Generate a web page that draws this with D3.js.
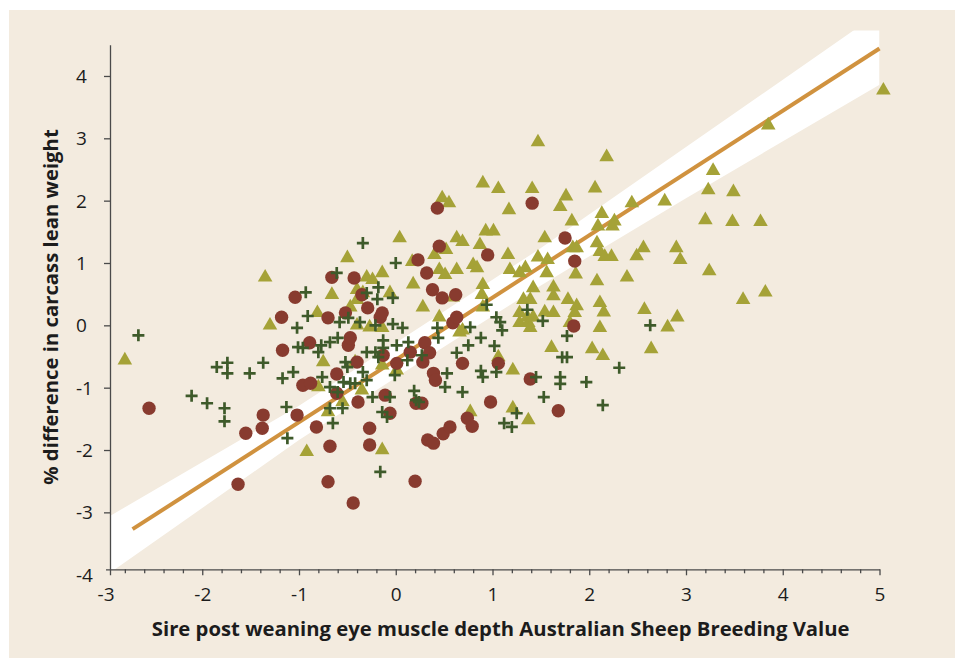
<!DOCTYPE html>
<html>
<head>
<meta charset="utf-8">
<script src="https://cdn.jsdelivr.net/npm/d3@7"></script>
<style>
body{margin:0;background:#fff;}
text{font-family:"Open Sans",sans-serif;fill:#1c1c1c;}
</style>
</head>
<body>
<svg id="chart"></svg>
<script>
const triangles = [
[-2.80,-0.56],[-1.35,0.77],[-1.30,0.00],[-0.92,-2.03],[-0.81,0.20],[-0.80,-0.99],[-0.75,-0.59],[-0.70,-1.39],[-0.66,0.49],[-0.55,-1.23],
[-0.50,1.08],[-0.47,0.29],[-0.42,-0.59],[-0.40,0.57],[-0.40,0.41],[-0.40,0.00],[-0.35,-1.04],[-0.34,0.52],[-0.30,0.77],[-0.27,-0.03],
[-0.24,0.73],[-0.14,0.84],[-0.14,-0.04],[-0.14,-0.64],[-0.14,-2.00],[-0.06,0.52],[0.01,-0.72],[0.04,1.40],[0.17,1.02],[0.18,0.66],
[0.28,0.29],[0.40,1.13],[0.45,0.89],[0.45,0.13],[0.48,2.04],[0.51,0.81],[0.52,1.21],[0.55,1.96],[0.59,0.45],[0.63,1.40],
[0.63,0.89],[0.66,-0.11],[0.69,1.34],[0.69,-0.08],[0.77,-1.39],[0.80,0.97],[0.84,0.92],[0.87,1.29],[0.89,0.49],[0.90,2.28],
[0.90,0.65],[0.90,0.29],[0.93,1.51],[1.01,1.51],[1.06,2.19],[1.06,-0.51],[1.16,1.13],[1.17,1.85],[1.18,0.89],[1.21,-0.72],
[1.21,-1.33],[1.28,0.84],[1.28,0.20],[1.28,0.04],[1.32,0.41],[1.34,0.92],[1.36,0.13],[1.37,0.04],[1.37,-1.52],[1.39,0.41],
[1.39,-0.04],[1.41,2.19],[1.42,0.60],[1.42,0.13],[1.47,2.94],[1.47,1.09],[1.54,1.40],[1.54,0.21],[1.56,0.84],[1.57,1.05],
[1.61,-0.36],[1.63,0.61],[1.63,0.47],[1.63,0.20],[1.70,1.90],[1.76,2.07],[1.78,0.41],[1.80,0.04],[1.82,1.67],[1.83,1.24],
[1.85,0.20],[1.86,0.82],[1.87,1.24],[1.87,0.31],[2.03,-0.38],[2.06,2.20],[2.08,1.32],[2.08,0.71],[2.09,1.59],[2.11,1.18],
[2.11,0.36],[2.11,-0.04],[2.13,1.79],[2.14,-0.49],[2.15,0.21],[2.16,1.10],[2.18,2.70],[2.23,1.10],[2.24,1.59],[2.26,1.67],
[2.39,0.77],[2.44,1.96],[2.49,1.11],[2.56,1.24],[2.57,0.25],[2.64,-0.38],[2.78,1.99],[2.81,-0.03],[2.90,1.24],[2.91,0.13],
[2.94,1.05],[3.20,1.69],[3.23,2.17],[3.24,0.87],[3.28,2.48],[3.48,1.66],[3.49,2.14],[3.59,0.41],[3.77,1.66],[3.82,0.53],
[3.85,3.21],[5.04,3.77]
];

const circles = [
[-2.55,-1.33],[-1.63,-2.55],[-1.55,-1.73],[-1.38,-1.65],[-1.37,-1.44],[-1.18,0.13],[-1.17,-0.40],[-1.04,0.45],[-1.02,-1.44],[-0.96,-0.96],
[-0.88,-0.93],[-0.89,-0.28],[-0.82,-1.63],[-0.70,0.12],[-0.68,-1.94],[-0.70,-2.51],[-0.66,0.77],[-0.61,-0.78],[-0.61,-1.09],[-0.52,0.20],
[-0.49,-0.32],[-0.47,-0.20],[-0.44,-2.85],[-0.43,0.76],[-0.40,-0.59],[-0.39,-1.23],[-0.35,0.49],[-0.29,0.28],[-0.27,-1.65],[-0.27,-1.92],
[-0.16,0.13],[-0.14,0.20],[-0.13,-0.48],[-0.11,-1.12],[-0.06,-1.41],[0.01,-0.61],[0.15,-0.43],[0.21,-1.25],[0.27,-1.25],[0.20,-2.50],
[0.23,1.05],[0.28,-0.59],[0.30,-0.28],[0.32,0.84],[0.33,-1.84],[0.35,-0.44],[0.38,0.57],[0.39,-0.77],[0.41,-0.88],[0.39,-1.89],
[0.43,1.88],[0.45,1.27],[0.48,0.44],[0.49,-1.74],[0.56,-1.63],[0.59,0.04],[0.62,0.49],[0.63,0.13],[0.69,-0.61],[0.74,-1.49],
[0.79,-1.62],[0.95,1.13],[0.98,-1.23],[1.06,-0.61],[1.39,-0.86],[1.41,1.96],[1.68,-1.37],[1.75,1.40],[1.84,-0.01],[1.85,1.03]
];

const crosses = [
[-2.66,-0.16],[-2.11,-1.13],[-1.95,-1.25],[-1.85,-0.67],[-1.77,-1.33],[-1.77,-1.54],[-1.74,-0.60],[-1.74,-0.77],[-1.51,-0.77],[-1.37,-0.60],
[-1.17,-0.85],[-1.13,-1.31],[-1.12,-1.81],[-1.06,-0.75],[-1.02,-0.04],[-1.01,-0.35],[-0.96,-0.36],[-0.93,0.53],[-0.91,0.15],[-0.80,-0.43],
[-0.77,-0.32],[-0.76,-0.83],[-0.68,-0.99],[-0.68,-1.33],[-0.65,-1.57],[-0.61,0.84],[-0.60,-0.20],[-0.60,-1.07],[-0.58,0.05],[-0.55,-1.33],
[-0.54,-0.91],[-0.52,-0.59],[-0.50,-0.67],[-0.49,0.12],[-0.47,-0.93],[-0.42,-0.93],[-0.37,0.05],[-0.34,1.32],[-0.34,-0.75],[-0.30,-0.88],
[-0.30,0.52],[-0.30,-0.43],[-0.24,-1.15],[-0.21,0.00],[-0.21,-0.43],[-0.19,0.42],[-0.18,0.61],[-0.18,-0.51],[-0.16,-2.35],[-0.14,-1.39],
[-0.13,-0.24],[-0.13,-0.36],[-0.09,-1.47],[-0.06,-1.15],[-0.03,0.02],[-0.03,0.44],[-0.01,-0.80],[0.00,1.00],[0.01,-0.32],[0.07,-0.04],
[0.12,-0.56],[0.13,-0.27],[0.19,-1.05],[0.21,-1.20],[0.24,-1.23],[0.27,-0.48],[0.43,-0.04],[0.44,-0.20],[0.51,-0.99],[0.53,-0.77],
[0.63,-0.44],[0.69,-1.07],[0.75,-0.32],[0.77,-0.03],[0.88,-0.73],[0.88,-0.20],[0.90,-0.83],[0.94,0.33],[1.02,-0.33],[1.04,0.13],
[1.04,-0.75],[1.08,0.05],[1.10,-0.08],[1.12,-1.57],[1.20,-1.63],[1.25,-1.41],[1.36,0.25],[1.45,-0.83],[1.52,0.07],[1.53,-1.15],
[1.70,-0.83],[1.70,-0.94],[1.72,-0.51],[1.77,-0.17],[1.77,-0.51],[1.97,-0.91],[2.14,-1.28],[2.31,-0.68],[2.63,0.00],[-0.68,-0.27]
];

// regression line and its confidence band
const lineX = [-2.72, 5];
const lineY = [-3.27, 4.44];
const bandX = [-3, -1, 0.3, 1.5, 3, 5];
const bandUpper = [-3.10, -1.29, 0.02, 1.24, 2.86, 5.02];
const bandLower = [-4.02, -1.84, -0.54, 0.64, 2.04, 3.86];

const xTicks = [-3, -2, -1, 0, 1, 2, 3, 4, 5];
const yTicks = [-4, -3, -2, -1, 0, 1, 2, 3, 4];

const xTitle = 'Sire post weaning eye muscle depth Australian Sheep Breeding Value';
const yTitle = '% difference in carcass lean weight';

const width = 960;
const height = 658;
const axisLeftX = 110;
const axisBottomY = 569.3;

let svg = d3.select('#chart')
    .attr('width', width)
    .attr('height', height);

svg.append('rect')
    .attr('x', 9).attr('y', 10)
    .attr('width', 946).attr('height', 648)
    .attr('fill', '#f3ebdf');

const xScale = d3.scaleLinear().domain([-3, 5]).range([105.5, 879.5]);
const yScale = d3.scaleLinear().domain([-4, 4.5]).range([574.7, 44.8]);

svg.append('clipPath').attr('id', 'plotClip')
    .append('rect')
    .attr('x', axisLeftX)
    .attr('y', yScale(4.73))
    .attr('width', xScale(5) - axisLeftX)
    .attr('height', axisBottomY - yScale(4.73));

const bandData = bandX.map((x, i) => ({x: x, hi: bandUpper[i], lo: bandLower[i]}));
const band = d3.area()
    .x(d => xScale(d.x))
    .y0(d => yScale(d.lo))
    .y1(d => yScale(d.hi));

svg.append('path')
    .datum(bandData)
    .attr('clip-path', 'url(#plotClip)')
    .attr('d', band)
    .attr('fill', '#ffffff');

svg.append('path')
    .datum(d3.zip(lineX, lineY))
    .attr('d', d3.line().x(d => xScale(d[0])).y(d => yScale(d[1])))
    .attr('fill', 'none')
    .attr('stroke', '#d0923f')
    .attr('stroke-width', 4);

// axes
let xAxis = svg.append('g')
    .attr('transform', 'translate(0,' + axisBottomY + ')')
    .call(d3.axisBottom(xScale).tickValues(xTicks).tickSize(6).tickSizeOuter(0).tickFormat(d => String(d)));

let minorTicks = d3.range(-14, 26).map(d => d / 5).filter(d => !Number.isInteger(d));
svg.append('g')
    .attr('transform', 'translate(0,' + axisBottomY + ')')
    .call(d3.axisBottom(xScale).tickValues(minorTicks).tickSize(4).tickFormat(''))
    .call(g => g.select('.domain').remove());

xAxis.selectAll('.tick').filter(d => d === -3).select('line').remove();
xAxis.selectAll('text')
    .attr('y', 32.2).attr('dy', 0)
    .style('font-size', '19px');

let yAxis = svg.append('g')
    .attr('transform', 'translate(' + axisLeftX + ',0)')
    .call(d3.axisLeft(yScale).tickValues(yTicks).tickSize(6).tickSizeOuter(0).tickFormat(d => String(d)));

yAxis.selectAll('.tick').filter(d => d === -4).select('line').remove();
yAxis.selectAll('text')
    .attr('x', -34).attr('dy', '0.34em')
    .attr('text-anchor', 'start')
    .style('font-size', '19px');

svg.selectAll('.domain, .tick line')
    .attr('stroke', '#4a4a4a')
    .attr('stroke-width', 1.3);

// markers
svg.append('g').selectAll('path')
    .data(triangles)
    .enter()
    .append('path')
    .attr('d', d3.symbol().type(d3.symbolTriangle).size(92))
    .attr('transform', d => 'translate(' + xScale(d[0]) + ',' + yScale(d[1]) + ')')
    .attr('fill', '#a5a237');

svg.append('g').selectAll('circle')
    .data(circles)
    .enter()
    .append('circle')
    .attr('cx', d => xScale(d[0]))
    .attr('cy', d => yScale(d[1]))
    .attr('r', 6.7)
    .attr('fill', '#883b2f');

svg.append('g').selectAll('path')
    .data(crosses)
    .enter()
    .append('path')
    .attr('d', 'M-6,0H6M0,-6V6')
    .attr('transform', d => 'translate(' + xScale(d[0]) + ',' + yScale(d[1]) + ')')
    .attr('stroke', '#3e5a2a')
    .attr('stroke-width', 2.7)
    .attr('fill', 'none');

// titles
svg.append('text')
    .attr('x', 500.7)
    .attr('y', 636)
    .attr('text-anchor', 'middle')
    .style('font-size', '20.3px')
    .style('font-weight', 'bold')
    .text(xTitle);

svg.append('text')
    .attr('transform', 'translate(58,307) rotate(-90)')
    .attr('text-anchor', 'middle')
    .style('font-size', '20.3px')
    .style('font-weight', 'bold')
    .text(yTitle);
</script>
</body>
</html>
